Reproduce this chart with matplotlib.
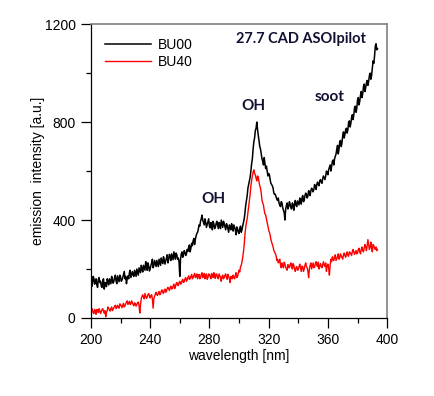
import matplotlib
matplotlib.use("Agg")
import matplotlib.pyplot as plt
from matplotlib.ticker import MultipleLocator

# wavelengths sampled every 0.5 nm: whole-nm points and half-nm points
wl_whole = list(range(200, 394))
wl_half = [w + 0.5 for w in wl_whole]

bu00_whole = [155, 140, 162, 148, 135, 158, 145, 130, 152, 118,
              140, 160, 135, 150, 170, 142, 165, 150, 172, 148,
              168, 155, 178, 160, 140, 172, 185, 165, 190, 170,
              182, 200, 175, 195, 215, 188, 205, 230, 195, 212,
              200, 225, 205, 235, 210, 222, 240, 215, 230, 250,
              220, 245, 225, 260, 235, 250, 270, 240, 258, 245,
              170, 262, 248, 275, 255, 280, 290, 270, 305, 315,
              300, 335, 350, 380, 395, 420, 390, 405, 370, 395,
              375, 390, 360, 385, 370, 395, 365, 380, 400, 370,
              385, 360, 378, 350, 372, 385, 355, 370, 340, 365,
              345, 375, 360, 390, 430, 480, 530, 560, 600, 650,
              720, 765, 800, 745, 700, 670, 640, 655, 610, 600,
              590, 565, 545, 530, 505, 495, 480, 470, 455, 470,
              440, 400, 460, 445, 475, 450, 470, 440, 480, 455,
              470, 490, 465, 500, 480, 510, 490, 520, 500, 530,
              515, 545, 525, 555, 540, 565, 550, 580, 565, 600,
              585, 615, 600, 640, 625, 660, 690, 670, 720, 700,
              745, 735, 770, 755, 800, 780, 820, 810, 860, 840,
              890, 870, 910, 900, 945, 925, 960, 950, 990, 975,
              1020, 1040, 1110, 1095]

bu00_half = [128, 170, 138, 160, 125, 165, 150, 125, 160, 145,
             128, 150, 160, 140, 158, 150, 175, 140, 160, 175,
             150, 165, 190, 170, 160, 160, 195, 178, 175, 195,
             170, 188, 205, 185, 200, 215, 195, 215, 225, 192,
             215, 240, 215, 222, 235, 210, 228, 245, 222, 238,
             232, 258, 240, 250, 262, 238, 255, 265, 240, 230,
             240, 270, 258, 268, 262, 272, 298, 285, 295, 325,
             320, 345, 362, 375, 405, 400, 380, 390, 382, 405,
             368, 378, 395, 365, 385, 380, 390, 365, 385, 395,
             372, 385, 365, 380, 360, 368, 380, 360, 372, 350,
             365, 350, 378, 405, 460, 500, 545, 575, 630, 690,
             735, 775, 770, 725, 690, 650, 625, 630, 620, 580,
             585, 550, 540, 510, 505, 485, 490, 460, 475, 450,
             430, 445, 470, 455, 465, 445, 462, 465, 460, 478,
             462, 480, 490, 475, 500, 505, 498, 515, 520, 525,
             525, 540, 545, 545, 560, 555, 570, 572, 580, 595,
             605, 625, 618, 645, 650, 670, 705, 690, 725, 715,
             760, 750, 775, 770, 805, 795, 830, 830, 865, 855,
             900, 885, 925, 915, 955, 940, 970, 965, 1000, 990,
             1050, 1070, 1120, 1100]

bu40_whole = [25, 32, 18, 28, 35, 22, 30, 25, 38, 20,
              5, 30, 40, 28, 45, 35, 48, 38, 52, 40,
              55, 42, 60, 50, 65, 55, 68, 58, 62, 50,
              60, 55, 65, 20, 80, 95, 78, 90, 85, 100,
              82, 95, 40, 88, 105, 92, 108, 98, 115, 100,
              118, 108, 125, 112, 130, 120, 138, 125, 145, 132,
              150, 140, 158, 148, 165, 155, 172, 160, 178, 165,
              182, 170, 160, 178, 165, 185, 170, 160, 180, 165,
              178, 160, 175, 185, 162, 178, 160, 172, 150, 175,
              165, 180, 158, 170, 145, 168, 175, 160, 185, 170,
              195, 210, 230, 270, 340, 390, 430, 480, 540, 580,
              605, 585, 560, 575, 540, 510, 470, 440, 420, 390,
              360, 340, 310, 290, 270, 255, 240, 230, 215, 225,
              205, 220, 200, 218, 205, 225, 200, 215, 190, 210,
              198, 220, 190, 210, 200, 225, 205, 165, 215, 200,
              225, 208, 230, 210, 200, 222, 205, 230, 210, 190,
              220, 175, 240, 250, 235, 258, 242, 262, 245, 255,
              240, 265, 248, 270, 252, 268, 255, 280, 260, 275,
              265, 285, 262, 290, 270, 300, 275, 320, 280, 310,
              270, 295, 280, 275]

bu40_half = [40, 22, 35, 15, 30, 38, 18, 35, 28, 30,
             22, 45, 32, 38, 30, 42, 52, 45, 42, 58,
             48, 52, 45, 58, 70, 62, 55, 70, 55, 62,
             48, 62, 50, 55, 88, 85, 100, 80, 95, 90,
             92, 78, 80, 98, 95, 102, 95, 110, 105, 112,
             105, 120, 118, 125, 118, 130, 120, 140, 135, 145,
             138, 152, 145, 160, 150, 165, 158, 170, 160, 175,
             165, 180, 172, 160, 178, 165, 182, 172, 158, 180,
             168, 182, 165, 170, 180, 165, 180, 165, 170, 160,
             175, 165, 178, 160, 170, 160, 165, 175, 165, 182,
             188, 215, 248, 300, 370, 405, 455, 505, 560, 595,
             590, 570, 580, 555, 530, 480, 460, 425, 405, 375,
             350, 320, 300, 275, 262, 235, 225, 240, 205, 212,
             228, 208, 195, 210, 218, 210, 222, 200, 205, 195,
             210, 205, 212, 190, 215, 210, 190, 200, 225, 212,
             205, 222, 215, 228, 210, 212, 218, 215, 225, 212,
             205, 215, 230, 240, 250, 235, 250, 240, 262, 248,
             258, 255, 262, 255, 270, 262, 272, 268, 270, 262,
             280, 270, 280, 275, 285, 290, 295, 300, 290, 285,
             300, 285, 290, 280]

series_labels = ["BU00", "BU40"]
title_text = "27.7 CAD ASOIpilot"


def interleave(a, b):
    out = []
    for p, q in zip(a, b):
        out.extend([p, q])
    return out


wavelength = interleave(wl_whole, wl_half)
bu00 = interleave(bu00_whole, bu00_half)
bu40 = interleave(bu40_whole, bu40_half)

plt.rcParams['font.family'] = ['Liberation Sans', 'DejaVu Sans']

fig = plt.figure(figsize=(4.35, 3.96), dpi=100)
ax = fig.add_axes([0.209, 0.197, 0.681, 0.742])

ax.plot(wavelength, bu00, color='black', lw=1.1, label=series_labels[0])
ax.plot(wavelength, bu40, color='#ff0000', lw=1.0, label=series_labels[1])

ax.set_xlim(200, 400)
ax.set_ylim(0, 1200)
ax.xaxis.set_major_locator(MultipleLocator(40))
ax.xaxis.set_minor_locator(MultipleLocator(20))
ax.yaxis.set_major_locator(MultipleLocator(400))
ax.yaxis.set_minor_locator(MultipleLocator(200))
ax.tick_params(which='major', length=7, width=0.9, labelsize=10, pad=4, direction='out')
ax.tick_params(which='minor', length=3.5, width=0.9, direction='out')

for s in ['top', 'right']:
    ax.spines[s].set_color('#808080')
    ax.spines[s].set_linewidth(1.2)
for s in ['left', 'bottom']:
    ax.spines[s].set_color('black')
    ax.spines[s].set_linewidth(0.9)

ax.set_xlabel("wavelength [nm]", fontsize=10, labelpad=1)
ax.set_ylabel("emission  intensity [a.u.]", fontsize=10, labelpad=0)

leg = ax.legend(loc='upper left', frameon=False, fontsize=10, handlelength=3.3,
                handletextpad=0.5, labelspacing=0.2, borderaxespad=0.4,
                bbox_to_anchor=(0.01, 0.99))

tc = '#111133'
ax.text(342, 1140, title_text, fontsize=10.5, fontweight='bold', family='Lato',
        color=tc, ha='center', va='center')
ax.text(283, 486, "OH", fontsize=11, fontweight='bold', family='Lato',
        color=tc, ha='center', va='center')
ax.text(310, 865, "OH", fontsize=11, fontweight='bold', family='Lato',
        color=tc, ha='center', va='center')
ax.text(361, 902, "soot", fontsize=11, fontweight='bold', family='Lato',
        color=tc, ha='center', va='center')

fig.savefig("out.png", dpi=100)
